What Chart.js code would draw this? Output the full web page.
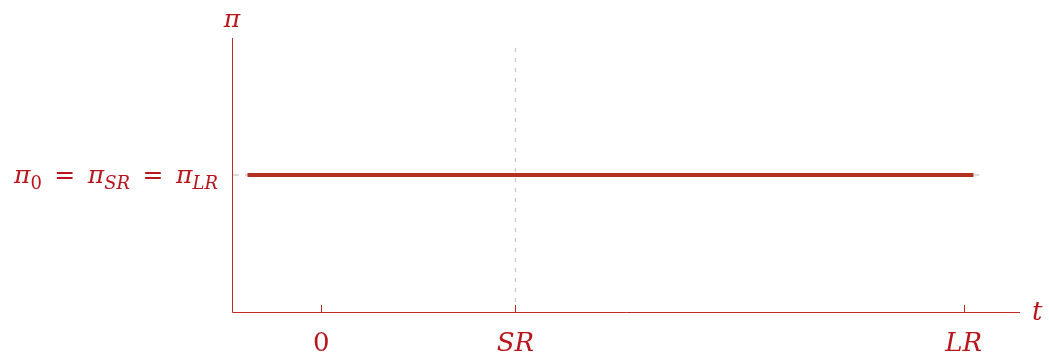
<!DOCTYPE html>
<html lang="en">
<head>
    <meta charset="UTF-8">
    <title>Inflation over time</title>
    <script src="https://cdn.jsdelivr.net/npm/chart.js"></script>
    <style>
        body { margin: 0; background: #ffffff; }
        canvas { display: block; }
    </style>
</head>
<body>
    <canvas id="chart" width="1049" height="360"></canvas>
    <script>
        // time axis: 0, short run, long run
        const tickValues = [0, 2, 6.62];
        const tickLabels = ['0', 'SR', 'LR'];
        const xRange = [-0.92, 7.2];
        const yRange = [0, 1];

        // inflation stays at the same level
        const levelT = [-0.76, 6.72];
        const levelPi = [0.5, 0.5];
        const guideT = [-0.92, 6.78];
        const srGuideT = [2, 2];
        const srGuidePi = [0, 0.978];

        const red = '#c0282a';
        const textRed = '#b8161c';
        const lineRed = '#b42f1f';
        const serif = '"DejaVu Serif", "Liberation Serif", serif';

        const pts = (xs, ys) => xs.map((x, i) => ({ x: x, y: ys[i] }));

        // formula pieces: [text, italic, subscript]
        function setFont(ctx, p, size) {
            ctx.font = (p[1] ? 'italic ' : '') + (p[2] ? Math.round(size * 0.7) : size) + 'px ' + serif;
        }
        function mathWidth(ctx, parts, size) {
            let w = 0;
            parts.forEach(p => { setFont(ctx, p, size); w += ctx.measureText(p[0]).width; });
            return w;
        }
        function drawMath(ctx, parts, x, base, size) {
            parts.forEach(p => {
                setFont(ctx, p, size);
                ctx.fillText(p[0], x, base + (p[2] ? size * 0.22 : 0));
                x += ctx.measureText(p[0]).width;
            });
        }

        const axesPlugin = {
            id: 'axes',
            afterDraw(chart) {
                const ctx = chart.ctx;
                const xs = chart.scales.x, ys = chart.scales.y;
                const x0 = xs.left, y0 = ys.bottom;
                ctx.save();
                ctx.strokeStyle = red;
                ctx.lineWidth = 1;
                ctx.beginPath();
                ctx.moveTo(x0 + 0.5, ys.top);
                ctx.lineTo(x0 + 0.5, y0 + 0.5);
                ctx.lineTo(xs.right, y0 + 0.5);
                tickValues.forEach(v => {
                    const px = Math.round(xs.getPixelForValue(v)) + 0.5;
                    ctx.moveTo(px, y0);
                    ctx.lineTo(px, y0 - 7);
                });
                ctx.stroke();

                ctx.fillStyle = textRed;
                ctx.textBaseline = 'alphabetic';
                ctx.textAlign = 'left';
                const size = 25;
                tickValues.forEach((v, i) => {
                    const parts = [[tickLabels[i], tickLabels[i] !== '0', false]];
                    const w = mathWidth(ctx, parts, 26);
                    drawMath(ctx, parts, xs.getPixelForValue(v) - w / 2, y0 + 39, 26);
                });

                const eq = '\u2002=\u2002';
                const yLabel = [['π', true, false], ['0', false, true], [eq, false, false],
                    ['π', true, false], ['SR', true, true], [eq, false, false],
                    ['π', true, false], ['LR', true, true]];
                const w = mathWidth(ctx, yLabel, size);
                drawMath(ctx, yLabel, x0 - 14 - w, ys.getPixelForValue(0.5) + 8, size);

                const piW = mathWidth(ctx, [['π', true, false]], size);
                drawMath(ctx, [['π', true, false]], x0 - piW / 2, 27, size);
                drawMath(ctx, [['t', true, false]], xs.right + 12, y0 + 8, 26);
                ctx.restore();
            }
        };

        new Chart(document.getElementById('chart'), {
            type: 'line',
            data: {
                datasets: [
                    {
                        data: pts(levelT, levelPi),
                        borderColor: lineRed,
                        borderWidth: 4,
                        pointRadius: 0,
                        order: 0
                    },
                    {
                        data: pts(guideT, levelPi),
                        borderColor: '#b8b8b8',
                        borderWidth: 1,
                        borderDash: [7, 6],
                        pointRadius: 0,
                        order: 1
                    },
                    {
                        data: pts(srGuideT, srGuidePi),
                        borderColor: '#bdbdbd',
                        borderWidth: 1,
                        borderDash: [4, 6],
                        pointRadius: 0,
                        order: 1
                    }
                ]
            },
            options: {
                responsive: false,
                animation: false,
                layout: { padding: { left: 232, right: 29, top: 38, bottom: 48 } },
                plugins: { legend: { display: false }, tooltip: { enabled: false } },
                scales: {
                    x: { type: 'linear', display: false, min: xRange[0], max: xRange[1] },
                    y: { type: 'linear', display: false, min: yRange[0], max: yRange[1] }
                }
            },
            plugins: [axesPlugin]
        });
    </script>
</body>
</html>
